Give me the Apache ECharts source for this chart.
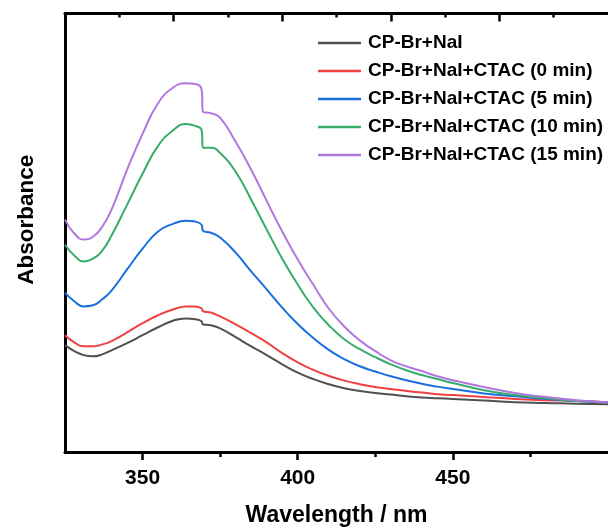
<!DOCTYPE html>
<html>
<head>
<meta charset="utf-8">
<script src="https://cdn.jsdelivr.net/npm/echarts@6/dist/echarts.min.js"></script>
<style>html,body{margin:0;padding:0;background:#fff}#c{width:608px;height:532px}</style>
</head>
<body>
<div id="c"></div>
<script>
const wavelengths = [325,328,331,334,337,340,345,350,355,360,364,367,369,369.5,372,375,380,385,390,395,400,405,410,415,420,425,430,435,440,445,450,460,470,480,490,500];
const seriesNames = ['CP-Br+NaI','CP-Br+NaI+CTAC (0 min)','CP-Br+NaI+CTAC (5 min)','CP-Br+NaI+CTAC (10 min)','CP-Br+NaI+CTAC (15 min)'];
const absBase  = [0.268,0.253,0.243,0.240,0.245,0.255,0.273,0.293,0.313,0.330,0.335,0.333,0.328,0.320,0.318,0.310,0.288,0.265,0.243,0.220,0.199,0.183,0.170,0.160,0.153,0.148,0.144,0.140,0.137,0.135,0.133,0.129,0.125,0.123,0.121,0.120];
const abs0min  = [0.293,0.275,0.265,0.265,0.270,0.278,0.300,0.323,0.343,0.358,0.365,0.365,0.360,0.353,0.350,0.340,0.320,0.298,0.275,0.248,0.225,0.206,0.191,0.179,0.170,0.163,0.158,0.153,0.149,0.145,0.143,0.138,0.133,0.130,0.128,0.125];
const abs5min  = [0.400,0.378,0.365,0.368,0.383,0.405,0.458,0.510,0.553,0.573,0.580,0.578,0.570,0.555,0.550,0.538,0.500,0.453,0.408,0.362,0.321,0.286,0.256,0.233,0.215,0.202,0.190,0.180,0.171,0.164,0.158,0.147,0.140,0.133,0.128,0.125];
const abs10min = [0.520,0.493,0.478,0.485,0.505,0.543,0.620,0.698,0.768,0.808,0.823,0.818,0.808,0.763,0.763,0.750,0.703,0.633,0.558,0.485,0.420,0.363,0.318,0.283,0.258,0.238,0.220,0.205,0.193,0.183,0.173,0.155,0.143,0.135,0.128,0.125];
const abs15min = [0.583,0.548,0.533,0.540,0.565,0.608,0.708,0.798,0.875,0.915,0.925,0.923,0.910,0.853,0.850,0.838,0.778,0.708,0.630,0.553,0.483,0.420,0.360,0.315,0.280,0.253,0.230,0.215,0.203,0.190,0.180,0.163,0.148,0.138,0.130,0.125];
const majorTicks = [350,400,450];
const tickLabels = [350,400,450];
const minorTicks = [375,425,475];
const topMajorTicks = [2,4,6,8];
const topMinorTicks = [1,3,5,7,9];
const colors = ['#515151','#F14040','#1A6FDF','#37AD6B','#B177DE'];

const allData = [absBase, abs0min, abs5min, abs10min, abs15min];
const font = '"Liberation Sans", Arial, sans-serif';
const chart = echarts.init(document.getElementById('c'), null, {renderer:'canvas'});
chart.setOption({
  animation: false,
  backgroundColor: '#fff',
  color: colors,
  grid: {left: 65, top: 13.5, width: 545, bottom: 79, containLabel: false},
  legend: {
    orient: 'vertical', left: 313, top: 28.5,
    itemWidth: 43, itemHeight: 14, itemGap: 9,
    icon: 'path://M0,6 L43,6 L43,8.5 L0,8.5 Z',
    textStyle: {fontFamily: font, fontWeight: 'bold', fontSize: 19, color: '#000', padding: [0,0,0,2]},
    data: seriesNames
  },
  xAxis: [
    {type: 'value', position: 'bottom', min: 325, max: 500,
     name: 'Wavelength / nm', nameLocation: 'middle', nameGap: 52,
     nameTextStyle: {fontFamily: font, fontWeight: 'bold', fontSize: 23, color: '#000'},
     axisLine: {show: true, onZero: false, lineStyle: {color: '#000', width: 3}},
     axisTick: {show: true, customValues: majorTicks, length: 8, lineStyle: {color: '#000', width: 2.5}},
     axisLabel: {customValues: tickLabels, margin: 16, fontFamily: font, fontWeight: 'bold', fontSize: 21, color: '#000'},
     splitLine: {show: false}},
    {type: 'value', position: 'top', min: 0, max: 10,
     axisLine: {show: true, onZero: false, lineStyle: {color: '#000', width: 3}},
     axisTick: {show: true, inside: true, customValues: topMajorTicks, length: 8, lineStyle: {color: '#000', width: 2.5}},
     axisLabel: {show: false}, splitLine: {show: false}},
    {type: 'value', position: 'bottom', min: 325, max: 500,
     axisLine: {show: false},
     axisTick: {show: true, customValues: minorTicks, length: 5, lineStyle: {color: '#000', width: 2.5}},
     axisLabel: {show: false}, splitLine: {show: false}},
    {type: 'value', position: 'top', min: 0, max: 10,
     axisLine: {show: false},
     axisTick: {show: true, inside: true, customValues: topMinorTicks, length: 4, lineStyle: {color: '#000', width: 2.5}},
     axisLabel: {show: false}, splitLine: {show: false}}
  ],
  yAxis: [
    {type: 'value', min: 0, max: 1.1, position: 'left',
     name: 'Absorbance', nameLocation: 'middle', nameGap: 27,
     nameTextStyle: {fontFamily: font, fontWeight: 'bold', fontSize: 22.5, color: '#000', padding: [0,0,0,26]},
     axisLine: {show: true, onZero: false, lineStyle: {color: '#000', width: 3}},
     axisTick: {show: false}, axisLabel: {show: false}, splitLine: {show: false}}
  ],
  series: allData.map((arr, i) => ({
    name: seriesNames[i], type: 'line', xAxisIndex: 0, yAxisIndex: 0,
    showSymbol: false, symbol: 'none', smooth: 0.5,
    lineStyle: {width: 2, color: colors[i]},
    data: wavelengths.map((w, j) => [w, arr[j]])
  }))
});
</script>
</body>
</html>
